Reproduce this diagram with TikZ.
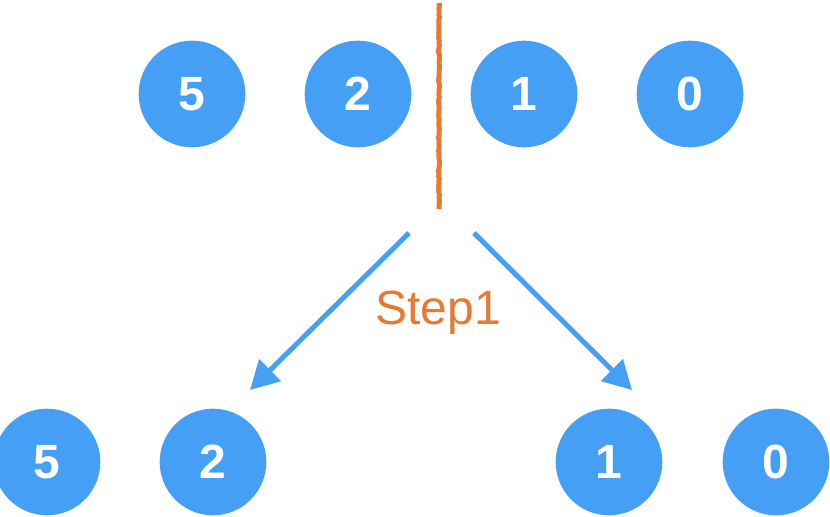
\documentclass[tikz,border=0pt]{standalone}
\usepackage{fontspec}
\setmainfont{Liberation Sans}
\usepackage{tikz}
\usetikzlibrary{arrows.meta,decorations.pathmorphing}
\definecolor{ballblue}{RGB}{69,160,245}
\definecolor{splitorange}{RGB}{230,122,48}

\begin{document}
\begin{tikzpicture}[
  x=0.03cm, y=-0.03cm,
  ball/.style={circle, fill=ballblue, minimum size=3.2cm, inner sep=0pt, text=white, font=\fontsize{41}{41}\selectfont\bfseries},
  split/.style={draw=splitorange, line width=0.15cm, decorate, decoration={random steps, segment length=2pt, amplitude=0.4pt}},
  move/.style={draw=ballblue, line width=0.15cm, -{Triangle[length=0.85cm, width=0.9cm]}}
]
\useasboundingbox (0,0) rectangle (830,517);
% top row
\node[ball] (t5) at (192,94) {5};
\node[ball] (t2) at (358,94) {2};
\node[ball] (t1) at (524,94) {1};
\node[ball] (t0) at (690,94) {0};
% bottom row
\node[ball] (b5) at (47,462) {5};
\node[ball] (b2) at (213,462) {2};
\node[ball] (b1) at (609,462) {1};
\node[ball] (b0) at (776,462) {0};
% split line and arrows
\coordinate (cuttop) at (439,3);
\coordinate (cutbot) at (439,209);
\draw[split] (cuttop) -- (cutbot);
\coordinate (lstart) at (409,233);
\coordinate (lend) at (250,390);
\coordinate (rstart) at (474,233);
\coordinate (rend) at (632,390);
\draw[move] (lstart) -- (lend);
\draw[move] (rstart) -- (rend);
\node[text=splitorange, font=\fontsize{41}{41}\selectfont] (steplabel) at (438,313) {Step1};
\end{tikzpicture}
\end{document}
